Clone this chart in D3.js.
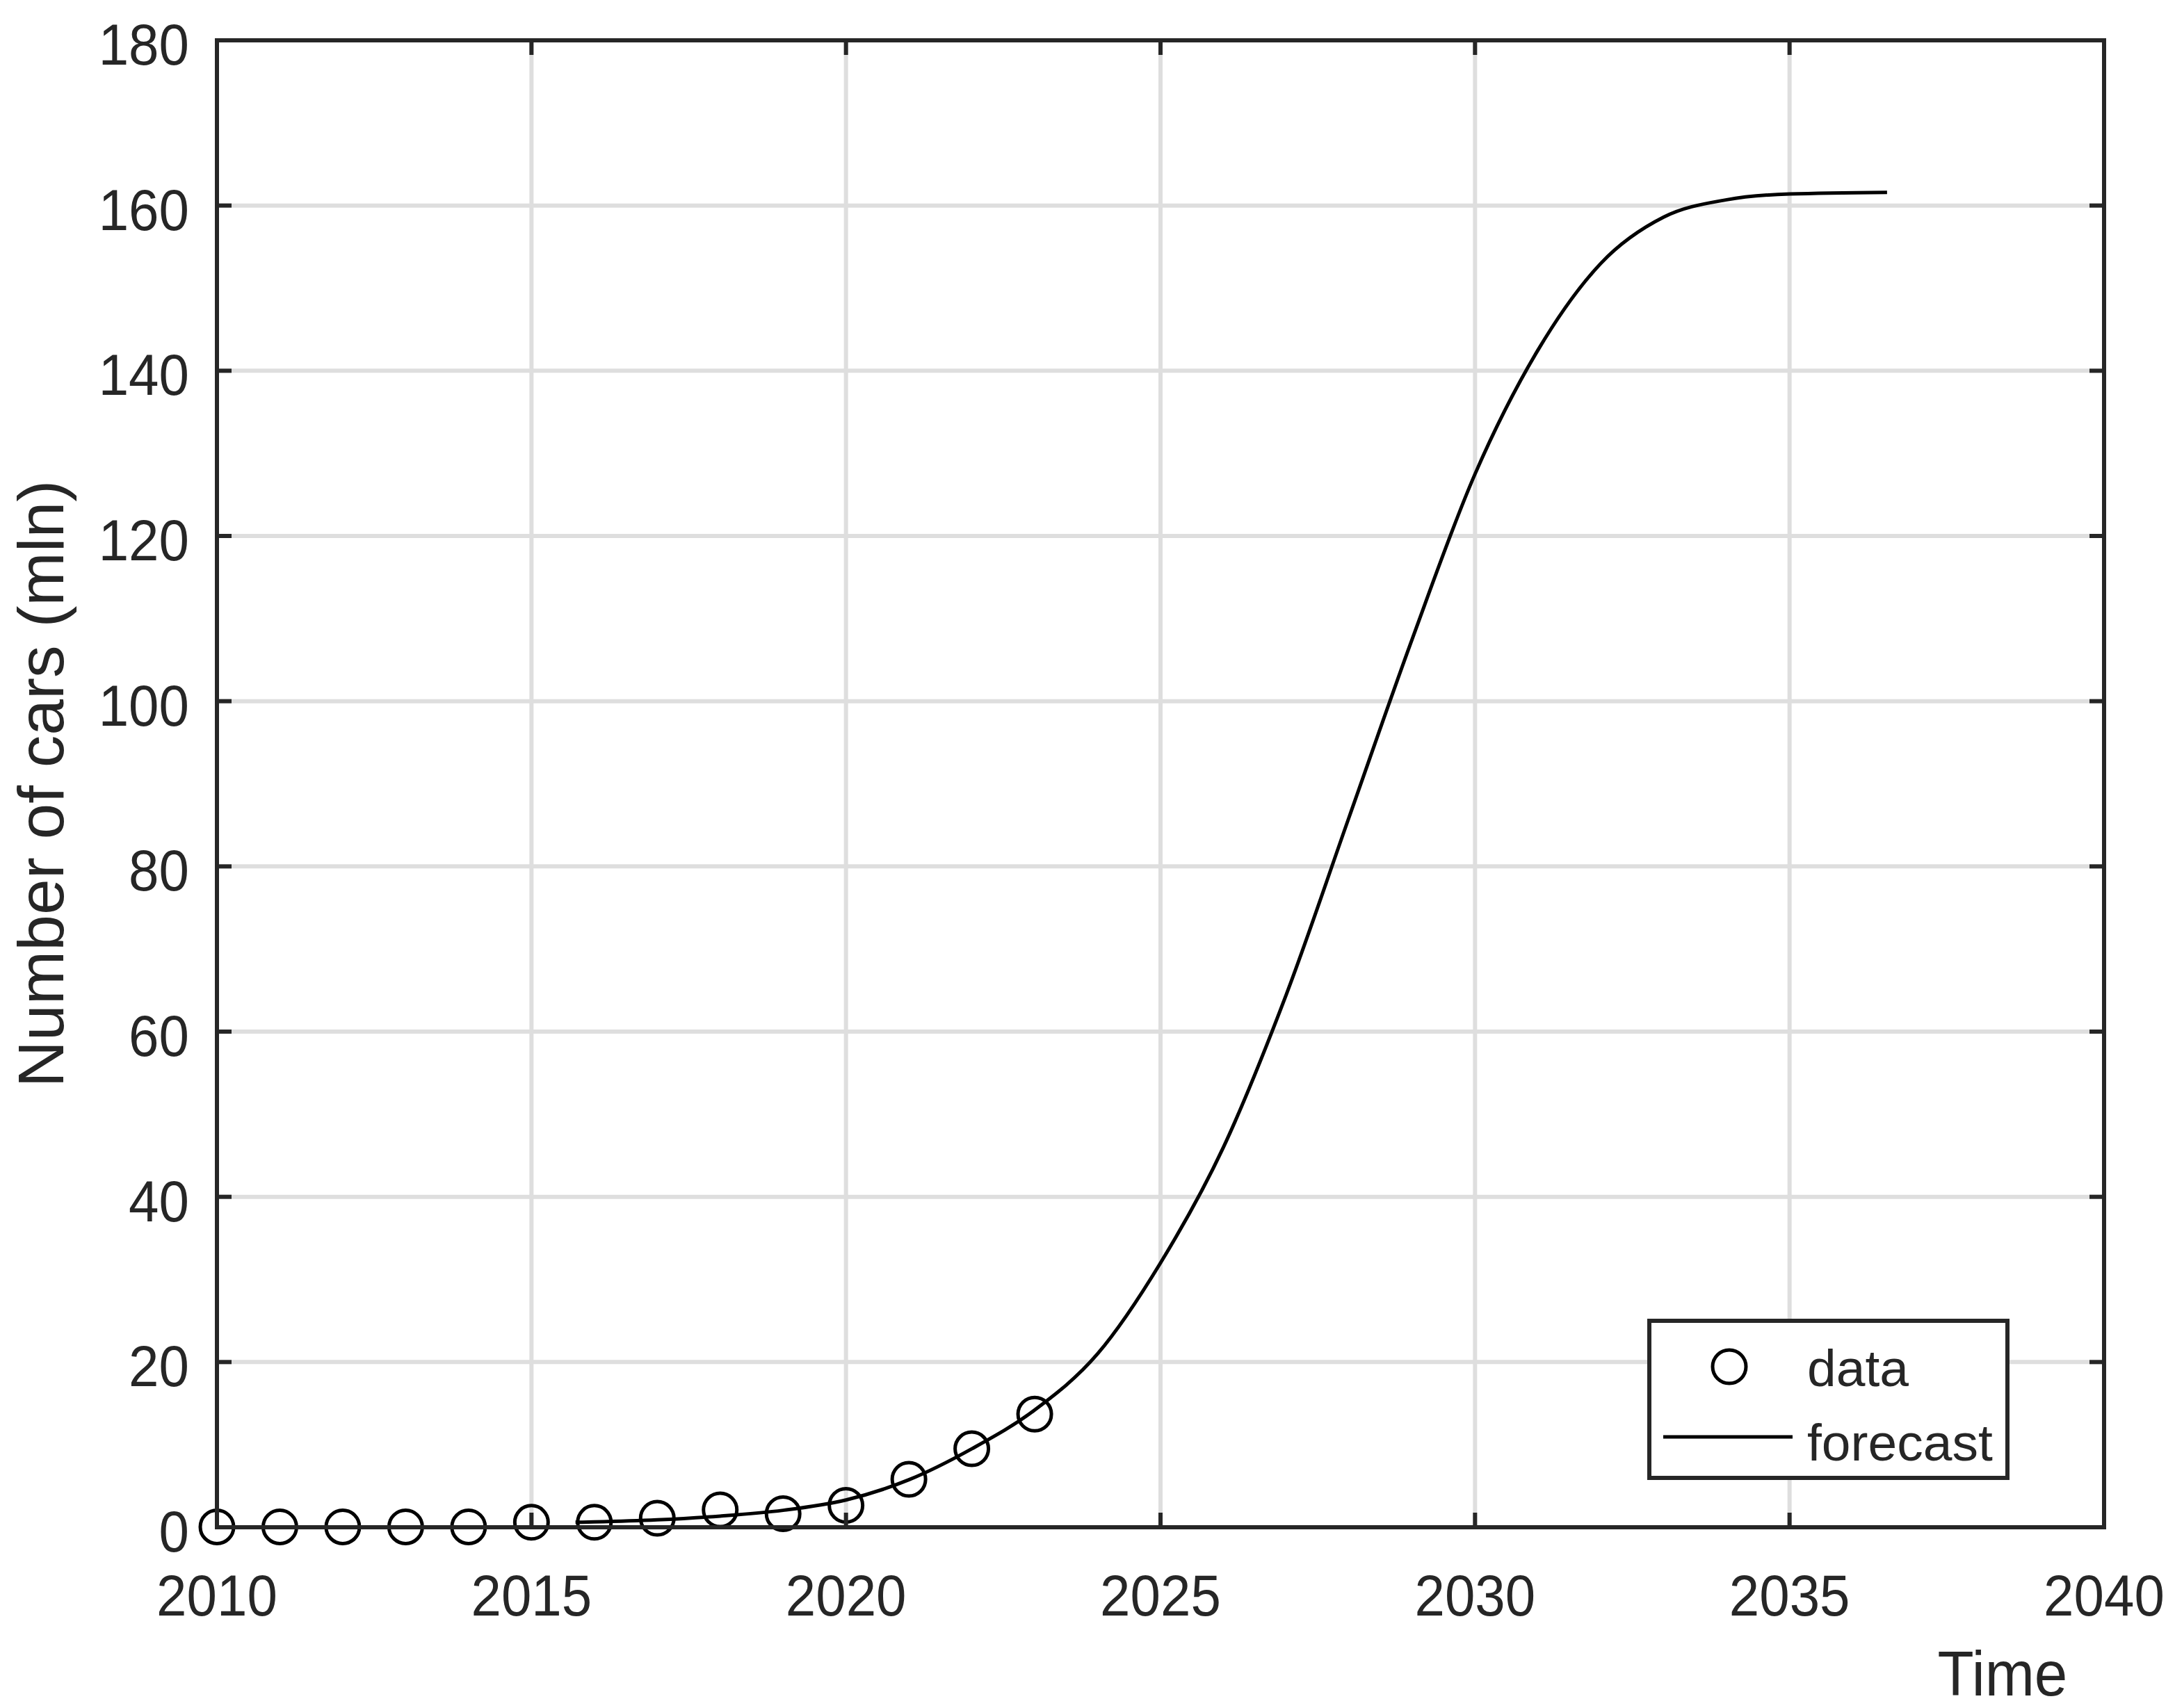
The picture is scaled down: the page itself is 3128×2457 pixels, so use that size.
<!DOCTYPE html>
<html>
<head>
<meta charset="utf-8">
<script src="https://cdn.jsdelivr.net/npm/d3@7"></script>
<style>
  html, body { margin: 0; padding: 0; background: #fff; }
  text { font-family: "Liberation Sans", Arial, sans-serif; fill: #262626; }
</style>
</head>
<body>
<div id="chart"></div>
<script>
// observed data (million cars)
var dataYears = [2010, 2011, 2012, 2013, 2014, 2015, 2016, 2017, 2018, 2019, 2020, 2021, 2022, 2023];
var dataValues = [0.05, 0.05, 0.05, 0.05, 0.05, 0.6, 0.6, 1.1, 2.1, 1.65, 2.65, 5.8, 9.5, 13.7];

// forecast curve
var forecastYears = [2015.7, 2016, 2017, 2018, 2019, 2020, 2021, 2022, 2023, 2024, 2025, 2026,
  2027, 2028, 2029, 2030, 2031, 2032, 2033, 2034, 2035, 2036.55];
var forecastValues = [0.6, 0.65, 0.9, 1.35, 2.05, 3.3, 5.75, 9.5, 14.2, 21.0, 32, 46,
  64.5, 86, 107.5, 127.5, 142.5, 153, 158.6, 160.7, 161.4, 161.6];

var xTicks = [2010, 2015, 2020, 2025, 2030, 2035, 2040];
var yTicks = [0, 20, 40, 60, 80, 100, 120, 140, 160, 180];
var legendLabels = ["data", "forecast"];

var width = 3128;
var height = 2457;
var margin = {top: 58, right: 102, bottom: 260, left: 312};
var axisColor = "#262626";

var svg = d3.select("#chart")
  .append("svg")
    .attr("width", width)
    .attr("height", height);

var x = d3.scaleLinear()
  .domain([2010, 2040])
  .range([margin.left, width - margin.right]);

var y = d3.scaleLinear()
  .domain([0, 180])
  .range([height - margin.bottom, margin.top]);

// grid
svg.append("g")
  .selectAll("line")
  .data(xTicks)
  .enter()
  .append("line")
    .attr("x1", function(d) { return x(d); })
    .attr("x2", function(d) { return x(d); })
    .attr("y1", y(0))
    .attr("y2", y(180))
    .attr("stroke", "#dedede")
    .attr("stroke-width", 6);

svg.append("g")
  .selectAll("line")
  .data(yTicks)
  .enter()
  .append("line")
    .attr("x1", x(2010))
    .attr("x2", x(2040))
    .attr("y1", function(d) { return y(d); })
    .attr("y2", function(d) { return y(d); })
    .attr("stroke", "#dedede")
    .attr("stroke-width", 6);

// forecast line
var forecast = forecastYears.map(function(d, i) { return [d, forecastValues[i]]; });
var line = d3.line()
  .x(function(d) { return x(d[0]); })
  .y(function(d) { return y(d[1]); })
  .curve(d3.curveMonotoneX);

svg.append("path")
  .datum(forecast)
  .attr("d", line)
  .attr("fill", "none")
  .attr("stroke", "#000")
  .attr("stroke-width", 5);

// data circles
svg.append("g")
  .selectAll("circle")
  .data(dataYears)
  .enter()
  .append("circle")
    .attr("cx", function(d) { return x(d); })
    .attr("cy", function(d, i) { return y(dataValues[i]); })
    .attr("r", 24)
    .attr("fill", "none")
    .attr("stroke", "#000")
    .attr("stroke-width", 5);

// axes box
svg.append("rect")
  .attr("x", x(2010))
  .attr("y", y(180))
  .attr("width", x(2040) - x(2010))
  .attr("height", y(0) - y(180))
  .attr("fill", "none")
  .attr("stroke", axisColor)
  .attr("stroke-width", 6);

// ticks pointing inward on all sides
var tickLen = 21;
var ticks = svg.append("g").attr("stroke", axisColor).attr("stroke-width", 6);
xTicks.forEach(function(d) {
  ticks.append("line").attr("x1", x(d)).attr("x2", x(d)).attr("y1", y(0)).attr("y2", y(0) - tickLen);
  ticks.append("line").attr("x1", x(d)).attr("x2", x(d)).attr("y1", y(180)).attr("y2", y(180) + tickLen);
});
yTicks.forEach(function(d) {
  ticks.append("line").attr("x1", x(2010)).attr("x2", x(2010) + tickLen).attr("y1", y(d)).attr("y2", y(d));
  ticks.append("line").attr("x1", x(2040)).attr("x2", x(2040) - tickLen).attr("y1", y(d)).attr("y2", y(d));
});

// tick labels (slightly narrow, like the original)
var tickFont = 84;
var squeeze = 0.93;
svg.append("g")
  .selectAll("text")
  .data(yTicks)
  .enter()
  .append("text")
    .attr("transform", function(d) { return "translate(" + (x(2010) - 40) + "," + (y(d) + 35) + ") scale(" + squeeze + ",1)"; })
    .attr("text-anchor", "end")
    .style("font-size", tickFont + "px")
    .text(function(d) { return d; });

svg.append("g")
  .selectAll("text")
  .data(xTicks)
  .enter()
  .append("text")
    .attr("transform", function(d) { return "translate(" + x(d) + "," + 2324 + ") scale(" + squeeze + ",1)"; })
    .attr("text-anchor", "middle")
    .style("font-size", tickFont + "px")
    .text(function(d) { return d; });

// axis titles
svg.append("text")
  .attr("transform", "translate(2880,2439) scale(0.95,1)")
  .attr("text-anchor", "middle")
  .style("font-size", "90px")
  .text("Time");

svg.append("text")
  .attr("transform", "translate(91," + ((y(0) + y(180)) / 2) + ") rotate(-90)")
  .attr("text-anchor", "middle")
  .style("font-size", "93px")
  .text("Number of cars (mln)");

// legend
var legend = svg.append("g");
legend.append("rect")
  .attr("x", 2372)
  .attr("y", 1900)
  .attr("width", 515)
  .attr("height", 226)
  .attr("fill", "#fff")
  .attr("stroke", axisColor)
  .attr("stroke-width", 6);

legend.append("circle")
  .attr("cx", 2487)
  .attr("cy", 1966)
  .attr("r", 24)
  .attr("fill", "none")
  .attr("stroke", "#000")
  .attr("stroke-width", 5);

legend.append("line")
  .attr("x1", 2392)
  .attr("x2", 2578)
  .attr("y1", 2067)
  .attr("y2", 2067)
  .attr("stroke", "#000")
  .attr("stroke-width", 5);

legend.selectAll("text.lbl")
  .data(legendLabels)
  .enter()
  .append("text")
    .attr("class", "lbl")
    .attr("x", 2599)
    .attr("y", function(d, i) { return i === 0 ? 1994 : 2101; })
    .style("font-size", "75px")
    .text(function(d) { return d; });
</script>
</body>
</html>
